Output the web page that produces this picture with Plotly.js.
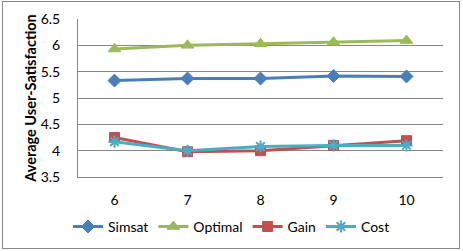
<!DOCTYPE html>
<html><head><meta charset="utf-8">
<script src="https://cdn.plot.ly/plotly-3.0.1.min.js"></script>
<style>
body{margin:0;padding:0;background:#fff;}
#wrap{position:relative;width:463px;height:251px;}
#chart{position:absolute;left:0;top:0;width:463px;height:251px;}
#frame{position:absolute;left:2px;top:1px;width:456px;height:246px;border:1px solid #878787;pointer-events:none;}
</style></head>
<body>
<div id="wrap"><div id="chart"></div><div id="frame"></div></div>
<script>
const categories = ['6','7','8','9','10'];
const simsat = [5.33, 5.37, 5.37, 5.42, 5.41];
const optimal = [5.93, 6.0, 6.03, 6.06, 6.09];
const gain = [4.25, 3.98, 4.0, 4.1, 4.19];
const cost = [4.17, 4.0, 4.08, 4.1, 4.1];
const yTicks = [3.5, 4, 4.5, 5, 5.5, 6, 6.5];
const yTickText = ['3.5','4','4.5','5','5.5','6','6.5'];

function tr(name, y, color, symbol, size, lw){
  return {
    type:'scatter', mode:'lines+markers', name:name, x:categories, y:y,
    line:{color:color, width:3},
    marker:{symbol:symbol, size:size, color:color, line:{color:color, width:lw}}
  };
}
const data = [
  tr('Simsat', simsat, '#4a7ebb', 'diamond', 10, 1),
  tr('Optimal', optimal, '#9bbb59', 'triangle-up', 11, 1),
  tr('Gain', gain, '#c0504d', 'square', 10, 1),
  tr('Cost', cost, '#4bacc6', 'asterisk-open', 10, 2)
];
const font = {family:'Lato, "Open Sans", sans-serif', size:14, color:'#000'};
const layout = {
  width:463, height:251,
  margin:{l:78, r:20, t:19, b:74},
  paper_bgcolor:'rgba(0,0,0,0)', plot_bgcolor:'#fff',
  font:font,
  showlegend:true,
  legend:{orientation:'h', x:0.5, xanchor:'center', xref:'container', y:0.096, yanchor:'middle', yref:'container',
    font:{family:font.family, size:14, color:'#000'}, itemwidth:30, tracegroupgap:0},
  xaxis:{type:'category', range:[-0.5,4.5], showgrid:false, zeroline:false,
    showline:true, linecolor:'#878787', linewidth:1, ticks:'', ticklabelstandoff:10,
    tickfont:font, fixedrange:true},
  yaxis:{range:[3.5,6.5], tickvals:yTicks, ticktext:yTickText, showgrid:true, gridcolor:'#878787', gridwidth:1,
    zeroline:false, showline:true, linecolor:'#878787', linewidth:1, ticks:'', ticklabelstandoff:14,
    tickfont:font,
    title:{text:'Average User-Satisfaction', font:{family:font.family, size:14.5, color:'#000', weight:'bold'}, standoff:0},
    fixedrange:true}
};
Plotly.newPlot('chart', data, layout, {staticPlot:true, displayModeBar:false});
</script>
</body></html>
